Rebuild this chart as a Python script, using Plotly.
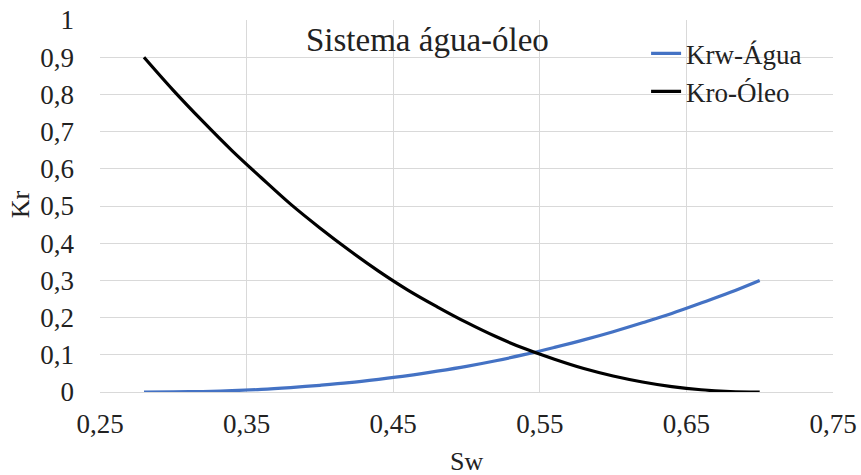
import plotly.graph_objects as go

sw = [0.28, 0.30, 0.32, 0.34, 0.36, 0.38, 0.40, 0.42, 0.44, 0.46, 0.48,
      0.50, 0.52, 0.54, 0.56, 0.58, 0.60, 0.62, 0.64, 0.66, 0.68, 0.70]
krw_agua = [0.0, 0.0003, 0.0014, 0.0036, 0.007, 0.012, 0.018, 0.025, 0.034, 0.044, 0.056,
            0.069, 0.084, 0.101, 0.120, 0.140, 0.162, 0.186, 0.211, 0.239, 0.268, 0.300]
kro_oleo = [0.900, 0.811, 0.728, 0.649, 0.576, 0.505, 0.441, 0.381, 0.325, 0.274, 0.229,
            0.187, 0.149, 0.116, 0.088, 0.063, 0.043, 0.027, 0.0145, 0.006, 0.0014, 0.0]

x_ticks = [0.25, 0.35, 0.45, 0.55, 0.65, 0.75]
y_ticks = [0, 0.1, 0.2, 0.3, 0.4, 0.5, 0.6, 0.7, 0.8, 0.9, 1.0]

FONT = "Times New Roman, Liberation Serif, serif"
TXT = "#222222"

fig = go.Figure()
fig.add_trace(go.Scatter(x=sw, y=krw_agua, mode="lines", name="Krw-Água",
                         line=dict(color="#4472C4", width=3.2, shape="spline")))
fig.add_trace(go.Scatter(x=sw, y=kro_oleo, mode="lines", name="Kro-Óleo",
                         line=dict(color="#000000", width=3.2, shape="spline")))

fig.update_layout(
    width=861, height=475,
    margin=dict(l=100, r=28, t=20, b=83, autoexpand=False),
    paper_bgcolor="white", plot_bgcolor="white",
    separators=", ",
    font=dict(family=FONT, size=27, color=TXT),
    showlegend=True,
    legend=dict(x=0.745, xanchor="left", y=0.975, yanchor="top",
                bgcolor="rgba(0,0,0,0)", font=dict(family=FONT, size=27, color=TXT),
                itemwidth=30, tracegroupgap=0),
    annotations=[
        dict(text="Sistema água-óleo", xref="paper", yref="paper",
             x=0.447, y=0.945, xanchor="center", yanchor="middle",
             showarrow=False, font=dict(family=FONT, size=33, color=TXT)),
        dict(text="Sw", xref="paper", yref="paper", x=0.5, y=-0.188,
             xanchor="center", yanchor="middle", showarrow=False,
             font=dict(family=FONT, size=26, color=TXT)),
        dict(text="Kr", xref="paper", yref="paper", x=-0.109, y=0.505,
             xanchor="center", yanchor="middle", showarrow=False, textangle=-90,
             font=dict(family=FONT, size=26, color=TXT)),
    ],
)
fig.update_xaxes(range=[0.25, 0.75], tickvals=x_ticks, tickformat=".2f",
                 tickfont=dict(family=FONT, size=27, color=TXT),
                 showgrid=True, gridcolor="#d9d9d9", gridwidth=1,
                 showline=True, linecolor="#d9d9d9", linewidth=1,
                 zeroline=False, ticks="", ticklabelstandoff=8, automargin=False)
fig.update_yaxes(range=[0, 1], tickvals=y_ticks,
                 tickfont=dict(family=FONT, size=27, color=TXT),
                 showgrid=True, gridcolor="#d9d9d9", gridwidth=1,
                 showline=False, zeroline=False, ticks="", ticklabelstandoff=25,
                 automargin=False)

fig.write_html("out.html")
